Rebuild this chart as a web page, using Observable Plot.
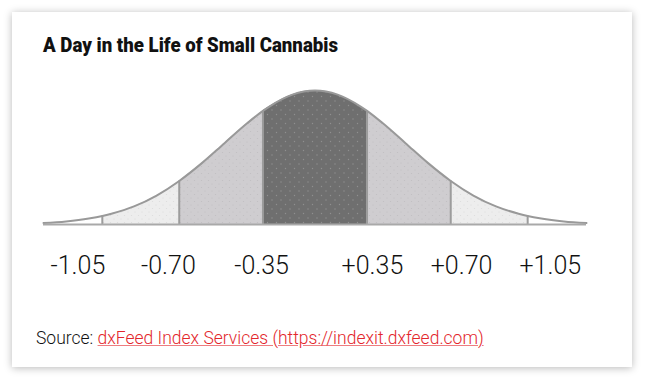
<!DOCTYPE html>
<html>
<head>
<meta charset="utf-8">
<script src="https://cdn.jsdelivr.net/npm/d3@7"></script>
<script src="https://cdn.jsdelivr.net/npm/@observablehq/plot@0.6"></script>
<style>
  html, body { margin: 0; padding: 0; background: #fff; }
  body { width: 646px; height: 380px; position: relative; overflow: hidden; font-family: Roboto, "Noto Sans", sans-serif; }
  #card { position: absolute; left: 12px; top: 12px; width: 620px; height: 355px; background: #fff;
          box-shadow: 0 1px 8px rgba(0,0,0,0.28); }
  #title { position: absolute; left: 43px; top: 33px; font-weight: 900; font-size: 21px; color: #111;
           white-space: nowrap; transform-origin: left center; line-height: 24px; }
  #chart { position: absolute; left: 0; top: 0; }
  #source { position: absolute; left: 36px; top: 328px; font-size: 17.5px; font-weight: 300; color: #111; white-space: nowrap; line-height: 20px; }
  #source a { color: #e3262c; text-decoration: underline; text-decoration-color: rgba(227,38,44,0.6); }
</style>
</head>
<body>
<svg width="0" height="0" style="position:absolute">
  <defs>
    <pattern id="dotsDark" width="9" height="9" patternUnits="userSpaceOnUse">
      <circle cx="2" cy="2" r="0.7" fill="rgba(255,255,255,0.22)"></circle>
      <circle cx="6.5" cy="6.5" r="0.7" fill="rgba(255,255,255,0.22)"></circle>
    </pattern>
    <pattern id="dotsLight" width="7" height="7" patternUnits="userSpaceOnUse">
      <circle cx="2" cy="2" r="0.6" fill="rgba(0,0,0,0.07)"></circle>
      <circle cx="5.5" cy="5.5" r="0.6" fill="rgba(0,0,0,0.07)"></circle>
    </pattern>
  </defs>
</svg>
<div id="card"></div>
<div id="chart"></div>
<div id="title">A Day in the Life of Small Cannabis</div>
<div id="source">Source: <a href="https://indexit.dxfeed.com">dxFeed Index Services (https://indexit.dxfeed.com)</a></div>
<script>
// Bell curve (x in standard-deviation units, height relative to peak)
const curveZ = [-3, -2.75, -2.5, -2.25, -2, -1.75, -1.5, -1.25, -1, -0.75, -0.5, -0.25, 0,
                0.25, 0.5, 0.75, 1, 1.25, 1.5, 1.75, 2, 2.25, 2.5, 2.75, 3];
const curveH = [0.011, 0.023, 0.044, 0.080, 0.135, 0.216, 0.325, 0.458, 0.607, 0.755, 0.882, 0.969, 1.000,
                0.969, 0.882, 0.755, 0.607, 0.458, 0.325, 0.216, 0.135, 0.080, 0.044, 0.023, 0.011];

// Band boundaries (vertical lines) and their curve heights
const boundaryZ = [-2.35, -1.50, -0.575, 0.575, 1.50, 2.35];
const boundaryH = [0.063, 0.325, 0.848, 0.848, 0.325, 0.063];

// Tick labels and their positions
const tickLabels = ["-1.05", "-0.70", "-0.35", "+0.35", "+0.70", "+1.05"];
const tickZ = [-2.62, -1.62, -0.59, 0.635, 1.62, 2.60];

// Band fills (from outside to centre)
const bandEdges = [-3, -2.35, -1.50, -0.575, 0.575, 1.50, 2.35, 3];
const bandFills = ["#ffffff", "#ededed", "#cfcdd0", "#6f6f6f", "#cfcdd0", "#ededed", "#ffffff"];
const bandDots  = ["none", "url(#dotsLight)", "url(#dotsLight)", "url(#dotsDark)", "url(#dotsLight)", "url(#dotsLight)", "none"];

const curve = curveZ.map((z, i) => ({z, h: curveH[i]}));
const bpts = boundaryZ.map((z, i) => ({z, h: boundaryH[i]}));
const pts = curve.filter(p => !boundaryZ.some(b => Math.abs(b - p.z) < 0.05))
  .concat(bpts).sort((a, b) => a.z - b.z);

const bandMarks = [];
for (let i = 0; i < bandFills.length; i++) {
  const a = bandEdges[i], b = bandEdges[i + 1];
  const seg = pts.filter(p => p.z >= a - 1e-9 && p.z <= b + 1e-9);
  bandMarks.push(Plot.areaY(seg, {x: "z", y: "h", fill: bandFills[i], curve: "monotone-x"}));
  if (bandDots[i] !== "none") bandMarks.push(Plot.areaY(seg, {x: "z", y: "h", fill: bandDots[i], curve: "monotone-x"}));
}

const chart = Plot.plot({
  width: 646,
  height: 290,
  marginLeft: 43,
  marginRight: 60,
  marginTop: 90,
  marginBottom: 66,
  x: {domain: [-3, 3], axis: null},
  y: {domain: [0, 1], axis: null},
  style: {background: "transparent", overflow: "visible"},
  marks: [
    ...bandMarks,
    Plot.ruleX(bpts, {x: "z", y1: 0, y2: "h", stroke: "#9c9c9c", strokeWidth: 2}),
    Plot.line(pts, {x: "z", y: "h", curve: "monotone-x", stroke: "#999999", strokeWidth: 2}),
    Plot.ruleY([0], {stroke: "#a9a9a9", strokeWidth: 2}),
    Plot.text(tickLabels, {x: (d, i) => tickZ[i], y: () => 0, text: d => d, dy: 49, lineAnchor: "bottom",
      fontSize: 25, fontWeight: 300, fill: "#111", fontFamily: "Roboto"})
  ]
});
document.getElementById("chart").appendChild(chart);

const t = document.getElementById("title");
const w = t.getBoundingClientRect().width;
t.style.transform = `scaleX(${295 / w})`;
</script>
</body>
</html>
